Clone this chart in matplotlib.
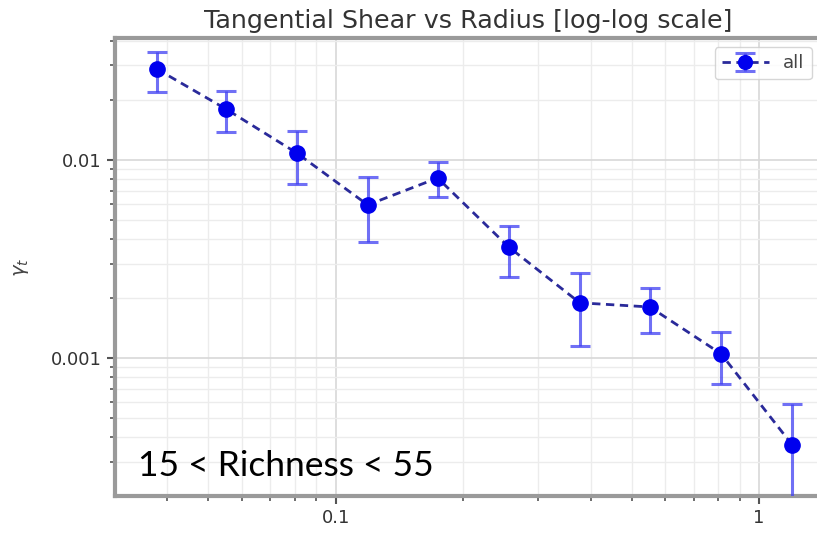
import matplotlib
matplotlib.use("Agg")
import matplotlib.pyplot as plt
import numpy as np

radius = [0.0378, 0.0550, 0.0809, 0.119, 0.174, 0.256, 0.377, 0.552, 0.813, 1.197]
gamma_t = [0.0288, 0.0181, 0.01084, 0.00593, 0.00811, 0.00364, 0.00190, 0.00181, 0.00105, 0.000364]
err_hi = [0.0351, 0.0223, 0.0140, 0.00821, 0.00977, 0.00464, 0.00269, 0.00226, 0.00135, 0.000586]
err_lo = [0.0220, 0.0138, 0.00757, 0.00386, 0.00650, 0.00256, 0.00115, 0.00134, 0.00074, 0.0001]

title = "Tangential Shear vs Radius [log-log scale]"
xticks = [0.1, 1]
xticklabels = ["0.1", "1"]
yticks = [0.001, 0.01]
yticklabels = ["0.001", "0.01"]
annotation = "15 < Richness < 55"

fig = plt.figure(figsize=(8.17, 5.33), dpi=100)
ax = fig.add_axes([115/817, 1 - 496/533, (821-115)/817, (496-38)/533])

y = np.array(gamma_t)
yerr = [y - np.array(err_lo), np.array(err_hi) - y]
cont = ax.errorbar(radius, gamma_t, yerr=yerr, fmt='o', color='#2a2a9a',
                   markerfacecolor='#0000ee', markeredgecolor='#0000ee', markersize=11,
                   ecolor=(0.25, 0.25, 0.95, 0.75), elinewidth=2.2, capsize=7, capthick=2.2,
                   linestyle=(0, (3, 2)), linewidth=2.0, label='all', zorder=3)

ax.set_xscale('log')
ax.set_yscale('log')
ax.set_xlim(0.0301, 1.40)
ax.set_ylim(0.000201, 0.0413)

ax.grid(True, which='major', color='#d8d8d8', linewidth=1.2)
ax.grid(True, which='minor', color='#ececec', linewidth=1.0)
ax.set_axisbelow(True)

ax.set_xticks(xticks)
ax.set_xticklabels(xticklabels)
ax.set_yticks(yticks)
ax.set_yticklabels(yticklabels)
ax.tick_params(axis='both', which='major', labelsize=13, length=6, width=1.5,
               color='#555555', labelcolor='#333333')
ax.tick_params(axis='both', which='minor', length=3.5, width=1.2, color='#555555', labelleft=False, labelbottom=False)

for s in ax.spines.values():
    s.set_color('#9a9a9a')
    s.set_linewidth(3)

ax.set_title(title, fontsize=18.3, color='#333333', pad=7)
ax.set_ylabel(r"$\gamma_t$", fontsize=14, color='#444444', labelpad=14)

leg = ax.legend(loc='upper right', fontsize=13, frameon=True, borderaxespad=0.5,
                handlelength=2.6, markerscale=0.9)
leg.get_frame().set_edgecolor('#cccccc')
for t in leg.get_texts():
    t.set_color('#444444')

fig.text(138/817, 1 - 476/533, annotation, fontsize=25.5, family='Lato', color='black')

fig.savefig("out.png", dpi=100)
